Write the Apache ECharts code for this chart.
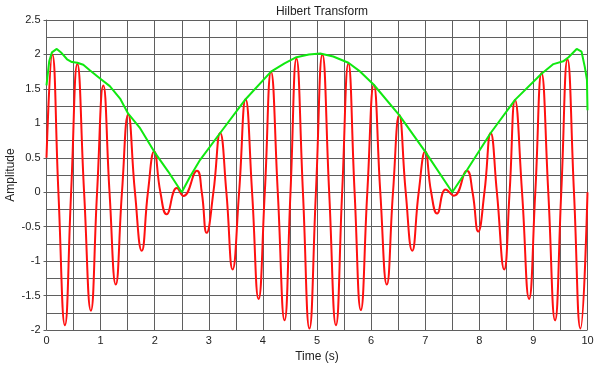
<!DOCTYPE html>
<html>
<head>
<meta charset="utf-8">
<script src="https://cdn.jsdelivr.net/npm/echarts@6/dist/echarts.min.js"></script>
<style>
html,body{margin:0;padding:0;background:#fff;}
#chart{width:597px;height:367px;}
</style>
</head>
<body>
<div id="chart"></div>
<script>
// Red signal: time (s) and amplitude (peaks, troughs, zero crossings)
var redTime = [0, 0.107, 0.22, 0.34, 0.455, 0.57, 0.695, 0.82, 0.935, 1.05, 1.165, 1.28, 1.395, 1.51, 1.635, 1.76, 1.875, 1.99, 2.105, 2.22, 2.41, 2.53, 2.78, 2.87, 2.96, 3.085, 3.21, 3.325, 3.44, 3.56, 3.68, 3.80, 3.92, 4.035, 4.15, 4.275, 4.40, 4.51, 4.62, 4.74, 4.86, 4.98, 5.10, 5.225, 5.35, 5.465, 5.58, 5.695, 5.81, 5.93, 6.05, 6.17, 6.29, 6.405, 6.52, 6.64, 6.76, 6.88, 7.0, 7.11, 7.22, 7.38, 7.53, 7.77, 7.875, 7.98, 8.095, 8.21, 8.325, 8.46, 8.56, 8.66, 8.79, 8.92, 9.035, 9.15, 9.275, 9.40, 9.515, 9.63, 9.75, 9.87, 10];
var redAmp  = [0.5, 2.0, 0, -1.93, 0, 1.86, 0, -1.72, 0, 1.55, 0, -1.34, 0, 1.13, 0, -0.85, 0, 0.59, 0, -0.32, 0.06, -0.055, 0.31, 0, -0.59, 0, 0.86, 0, -1.12, 0, 1.35, 0, -1.55, 0, 1.75, 0, -1.86, 0, 1.94, 0, -1.98, 0, 2.0, 0, -1.93, 0, 1.87, 0, -1.71, 0, 1.56, 0, -1.34, 0, 1.12, 0, -0.85, 0, 0.59, 0, -0.31, 0.04, -0.05, 0.31, 0, -0.57, 0, 0.86, 0, -1.12, 0, 1.34, 0, -1.55, 0, 1.73, 0, -1.86, 0, 1.93, 0, -1.98, 0];

// Green envelope (Hilbert magnitude)
var envTime = [0, 0.05, 0.1, 0.19, 0.28, 0.38, 0.47, 0.57, 0.68, 0.80, 0.99, 1.17, 1.36, 1.51, 1.73, 1.99, 2.25, 2.50, 2.65, 2.84, 3.21, 3.68, 4.15, 4.4, 4.62, 4.85, 5.06, 5.3, 5.58, 5.8, 6.05, 6.52, 7.0, 7.5, 7.77, 8.21, 8.66, 9.15, 9.37, 9.55, 9.65, 9.80, 9.89, 9.95, 9.99, 10];
var envAmp  = [1.55, 1.9, 2.03, 2.08, 2.02, 1.93, 1.89, 1.88, 1.85, 1.77, 1.65, 1.54, 1.36, 1.14, 0.93, 0.59, 0.3, 0, 0.22, 0.47, 0.86, 1.35, 1.75, 1.87, 1.96, 2.0, 2.015, 1.97, 1.88, 1.75, 1.56, 1.12, 0.59, 0, 0.32, 0.86, 1.34, 1.72, 1.86, 1.90, 1.96, 2.08, 2.04, 1.82, 1.63, 1.19];

var titleText = 'Hilbert Transform';
var xName = 'Time (s)';
var yName = 'Amplitude';

function zip(a, b) { var o = []; for (var i = 0; i < a.length; i++) o.push([a[i], b[i]]); return o; }

var gridColor = '#5f5f5f';
var font = 'Arial, "Liberation Sans", sans-serif';
var chart = echarts.init(document.getElementById('chart'), null, {renderer: 'canvas'});
chart.setOption({
  animation: false,
  backgroundColor: '#ffffff',
  title: {
    text: titleText, left: 317, top: 1, textAlign: 'center',
    textStyle: {fontSize: 12, fontWeight: 'normal', color: '#222', fontFamily: font}
  },
  grid: {left: 46.5, right: 9.5, top: 20, bottom: 37, containLabel: false, outerBoundsMode: 'none'},
  xAxis: {
    type: 'value', min: 0, max: 10, interval: 1,
    name: xName, nameLocation: 'middle', nameGap: 21, nameMoveOverlap: false,
    nameTextStyle: {fontSize: 12, color: '#222', fontFamily: font},
    axisLine: {show: true, lineStyle: {color: gridColor, width: 1}},
    axisTick: {show: true, length: 3, lineStyle: {color: gridColor}},
    axisLabel: {fontSize: 11, color: '#222', margin: 5, fontFamily: font},
    splitLine: {show: true, lineStyle: {color: gridColor, width: 1}},
    minorTick: {show: false, splitNumber: 2},
    minorSplitLine: {show: true, lineStyle: {color: gridColor, width: 1}}
  },
  yAxis: {
    type: 'value', min: -2, max: 2.5, interval: 0.5,
    name: yName, nameLocation: 'middle', nameGap: 30, nameRotate: 90, nameMoveOverlap: false,
    nameTextStyle: {fontSize: 12, color: '#222', fontFamily: font},
    axisLine: {show: true, lineStyle: {color: gridColor, width: 1}},
    axisTick: {show: true, length: 3, lineStyle: {color: gridColor}},
    axisLabel: {fontSize: 11, color: '#222', margin: 6, fontFamily: font},
    splitLine: {show: true, lineStyle: {color: gridColor, width: 1}},
    minorTick: {show: false, splitNumber: 2},
    minorSplitLine: {show: true, lineStyle: {color: gridColor, width: 1}}
  },
  series: [
    {
      type: 'line', name: 'signal', data: zip(redTime, redAmp),
      showSymbol: false, symbol: 'none', smooth: 0.5,
      lineStyle: {color: '#ff1010', width: 2}, z: 3
    },
    {
      type: 'line', name: 'envelope', data: zip(envTime, envAmp),
      showSymbol: false, symbol: 'none', smooth: false,
      lineStyle: {color: '#10e810', width: 2}, z: 4
    }
  ]
});
</script>
</body>
</html>
